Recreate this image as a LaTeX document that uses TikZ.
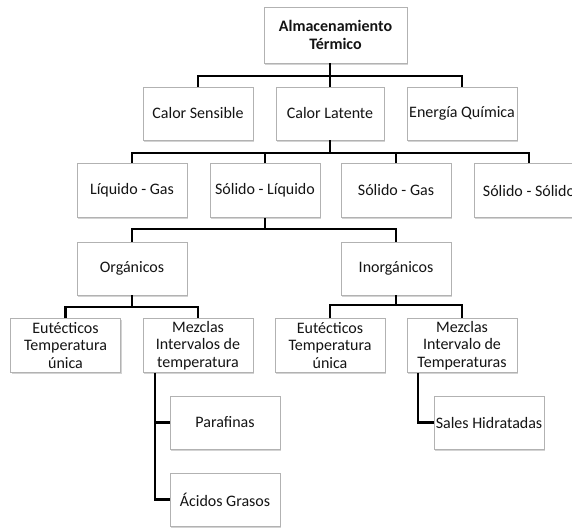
\documentclass[tikz,border=0pt]{standalone}
\usepackage{fontspec}
\setmainfont{Carlito}
\usetikzlibrary{shadows}
\definecolor{txt}{HTML}{141414}
\begin{document}
\begin{tikzpicture}[x=1pt,y=-1pt,
  box/.style={draw=gray!60, line width=0.7pt, fill=white, text=txt,
    minimum width=110pt, minimum height=54pt, align=center, inner sep=1pt,
    font=\fontsize{16}{17.5}\selectfont,
    drop shadow={opacity=0.35, shadow xshift=1pt, shadow yshift=-1.5pt}},
  conn/.style={draw=black, line width=2.2pt}]
\useasboundingbox (0,0) rectangle (572,527);
\clip (0,0) rectangle (572,527);
% row 1
\node[box, minimum width=143pt, minimum height=56pt, font=\fontsize{16}{18.5}\selectfont\bfseries] (top) at (335.5,35) {Almacenamiento\\Térmico};
% row 2
\node[box, minimum height=53pt] (cs) at (198,113.5) {Calor Sensible};
\node[box, minimum width=108pt, minimum height=53pt] (cl) at (330,113.5) {Calor Latente};
\node[box, minimum height=53pt] (eq) at (462,113.5) {Energía Química};
% row 3
\node[box] (lg) at (132,190.5) {Líquido - Gas};
\node[box] (sl) at (265,190.5) {Sólido - Líquido};
\node[box] (sg) at (396,190.5) {Sólido - Gas};
\node[box] (ss) at (529,190.5) {Sólido - Sólido};
% row 4
\node[box, minimum height=53pt] (org) at (132,268.5) {Orgánicos};
\node[box, minimum height=53pt] (inorg) at (396,268.5) {Inorgánicos};
% row 5
\node[box] (eu1) at (65.5,345.5) {Eutécticos\\Temperatura\\única};
\node[box] (mz1) at (198,345.5) {Mezclas\\Intervalos de\\temperatura};
\node[box] (eu2) at (330,345.5) {Eutécticos\\Temperatura\\única};
\node[box] (mz2) at (462,345.5) {Mezclas\\Intervalo de\\Temperaturas};
% row 6
\node[box, minimum height=53pt] (par) at (225,422.5) {Parafinas};
\node[box, minimum height=53pt] (ac) at (225,499.5) {Ácidos Grasos};
\node[box, minimum height=53pt] (sh) at (489,422.5) {Sales Hidratadas};
% junction helpers
\coordinate (j1) at (330,76);
\coordinate (j2) at (330,153);
\coordinate (j3) at (265,229);
\coordinate (j4) at (132,307);
\coordinate (j5) at (396,305);
\coordinate (v1) at (155,0);
\coordinate (v2) at (418,0);
% connectors
\draw[conn] (top.south -| j1) -- (j1);
\draw[conn] (cs.north) |- (j1) -| (eq.north);
\draw[conn] (j1) -- (cl.north);
\draw[conn] (cl.south) -- (j2);
\draw[conn] (lg.north) |- (j2) -| (ss.north);
\draw[conn] (sl.north) -- (sl.north |- j2);
\draw[conn] (sg.north) -- (sg.north |- j2);
\draw[conn] (sl.south) -- (j3);
\draw[conn] (org.north) |- (j3) -| (inorg.north);
\draw[conn] (org.south) -- (j4);
\draw[conn] (eu1.north) |- (j4) -| (mz1.north);
\draw[conn] (inorg.south) -- (j5);
\draw[conn] (eu2.north) |- (j5) -| (mz2.north);
\draw[conn] (mz1.south -| v1) |- (par.west);
\draw[conn] (mz1.south -| v1) |- (ac.west);
\draw[conn] (mz2.south -| v2) |- (sh.west);
\end{tikzpicture}
\end{document}
